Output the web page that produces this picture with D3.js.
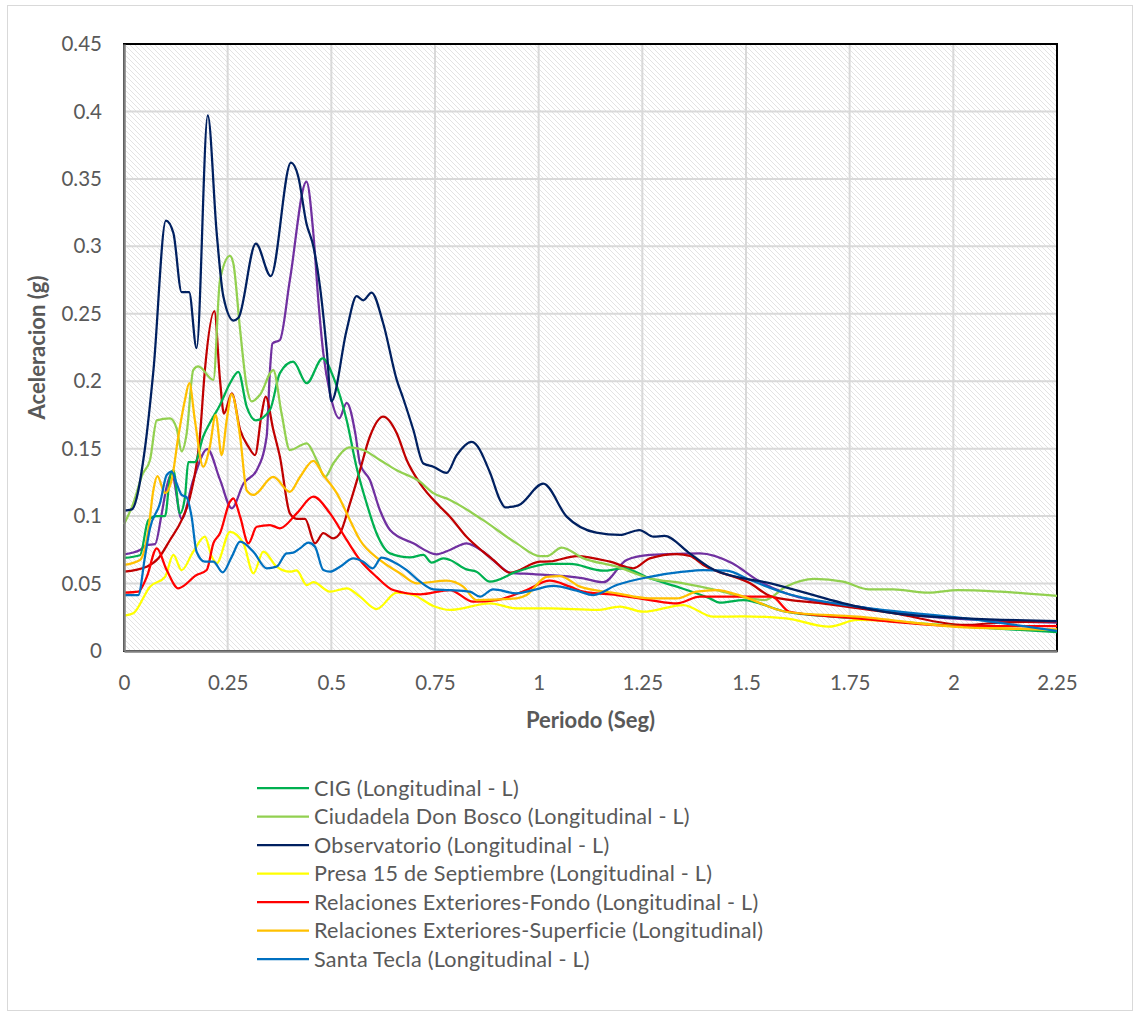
<!DOCTYPE html>
<html>
<head>
<meta charset="utf-8">
<script src="https://cdn.jsdelivr.net/npm/d3@7"></script>
<style>
  body { margin: 0; background: #fff; }
  svg text { font-family: Lato, "Open Sans", sans-serif; fill: #595959; }
</style>
</head>
<body>
<div id="chart"></div>
<script>
// periodos (s) y aceleraciones (g)
const cig = [[0,0.069],[0.0386,0.071],[0.0587,0.097],[0.079,0.1],[0.099,0.1],[0.111,0.129],[0.119,0.134],[0.135,0.102],[0.147,0.114],[0.155,0.14],[0.171,0.14],[0.191,0.159],[0.207,0.169],[0.2315,0.1824],[0.2556,0.1985],[0.2757,0.207],[0.296,0.181],[0.318,0.171],[0.352,0.1787],[0.376,0.206],[0.408,0.2145],[0.4406,0.1985],[0.479,0.217],[0.505,0.203],[0.537,0.171],[0.561,0.136],[0.585,0.1095],[0.609,0.0873],[0.6415,0.0724],[0.69,0.0694],[0.722,0.0712],[0.742,0.0655],[0.77,0.0687],[0.786,0.0675],[0.826,0.0605],[0.85,0.0588],[0.8826,0.0514],[0.947,0.0588],[1.027,0.0645],[1.0755,0.0645],[1.156,0.0595],[1.204,0.0613],[1.268,0.0539],[1.333,0.0477],[1.413,0.039],[1.437,0.0358],[1.4935,0.0378],[1.596,0.0291],[1.769,0.0242],[2.028,0.018],[2.25,0.014]];

const donBosco = [[0,0.094],[0.0225,0.1095],[0.0446,0.131],[0.0627,0.1416],[0.079,0.171],[0.111,0.1725],[0.127,0.165],[0.139,0.148],[0.151,0.161],[0.167,0.2083],[0.179,0.211],[0.2155,0.201],[0.2315,0.275],[0.2556,0.293],[0.2636,0.2874],[0.28,0.238],[0.296,0.196],[0.308,0.185],[0.328,0.19],[0.36,0.2083],[0.38,0.176],[0.40,0.149],[0.4406,0.154],[0.4646,0.1416],[0.4847,0.129],[0.5047,0.139],[0.545,0.151],[0.577,0.149],[0.617,0.1416],[0.6577,0.134],[0.7138,0.1255],[0.746,0.117],[0.786,0.112],[0.866,0.097],[0.947,0.0798],[1.003,0.0704],[1.02,0.0704],[1.0555,0.0766],[1.108,0.0687],[1.188,0.0625],[1.268,0.0539],[1.349,0.0502],[1.429,0.0452],[1.51,0.039],[1.545,0.0378],[1.596,0.0477],[1.665,0.0534],[1.734,0.0514],[1.795,0.0457],[1.855,0.0457],[1.941,0.0432],[2.01,0.0452],[2.114,0.044],[2.25,0.0408]];

const observatorio = [[0,0.104],[0.019,0.105],[0.05,0.149],[0.071,0.208],[0.101,0.319],[0.119,0.31],[0.139,0.266],[0.157,0.266],[0.175,0.2245],[0.202,0.397],[0.2235,0.31],[0.2395,0.263],[0.264,0.245],[0.276,0.247],[0.318,0.302],[0.354,0.278],[0.4027,0.362],[0.42,0.352],[0.44,0.317],[0.4566,0.30],[0.4727,0.27],[0.489,0.223],[0.5,0.185],[0.537,0.238],[0.561,0.263],[0.577,0.26],[0.597,0.2657],[0.625,0.243],[0.6577,0.201],[0.6736,0.187],[0.6977,0.164],[0.722,0.139],[0.746,0.1366],[0.778,0.132],[0.802,0.145],[0.8385,0.155],[0.883,0.132],[0.9067,0.112],[0.919,0.1065],[0.951,0.108],[1.011,0.124],[1.0675,0.0996],[1.139,0.0877],[1.196,0.086],[1.243,0.0897],[1.277,0.0847],[1.303,0.0853],[1.364,0.0724],[1.424,0.06],[1.562,0.05],[1.769,0.0329],[1.855,0.028],[2.028,0.0242],[2.25,0.0222]];

const presa = [[0,0.0262],[0.0225,0.028],[0.0627,0.0477],[0.099,0.055],[0.119,0.0712],[0.139,0.06],[0.167,0.0736],[0.195,0.0847],[0.2115,0.07],[0.2235,0.065],[0.2556,0.0884],[0.288,0.0798],[0.312,0.0576],[0.336,0.0736],[0.368,0.0625],[0.40,0.0588],[0.4165,0.0597],[0.4406,0.0489],[0.4566,0.051],[0.4968,0.044],[0.537,0.0465],[0.569,0.0403],[0.609,0.0311],[0.6577,0.0432],[0.6977,0.0415],[0.746,0.0334],[0.786,0.0304],[0.883,0.0353],[0.947,0.0316],[1.027,0.0316],[1.14,0.0304],[1.196,0.0329],[1.252,0.0291],[1.349,0.0341],[1.421,0.0254],[1.4935,0.0257],[1.596,0.0242],[1.7,0.018],[1.769,0.023],[2.028,0.018],[2.25,0.0156]];

const fondo = [[0,0.0432],[0.0346,0.044],[0.055,0.055],[0.079,0.0761],[0.103,0.06],[0.131,0.0465],[0.175,0.0563],[0.1995,0.06],[0.2155,0.0798],[0.2315,0.0873],[0.2556,0.1107],[0.2636,0.1132],[0.28,0.0996],[0.30,0.0798],[0.32,0.0921],[0.352,0.0934],[0.376,0.091],[0.4165,0.102],[0.4566,0.1144],[0.4968,0.102],[0.537,0.0823],[0.569,0.0675],[0.609,0.055],[0.649,0.0452],[0.714,0.042],[0.786,0.0452],[0.842,0.0366],[0.899,0.0378],[0.971,0.0452],[1.027,0.0521],[1.0755,0.0477],[1.108,0.044],[1.188,0.0415],[1.268,0.0378],[1.333,0.0353],[1.389,0.0403],[1.4935,0.0403],[1.562,0.0403],[1.605,0.0291],[1.769,0.0242],[2.028,0.0185],[2.25,0.0185]];

const superficie = [[0,0.0638],[0.0386,0.0675],[0.0587,0.0897],[0.0707,0.119],[0.0804,0.1297],[0.099,0.117],[0.115,0.1268],[0.131,0.159],[0.147,0.186],[0.1575,0.1985],[0.171,0.171],[0.191,0.1366],[0.207,0.1515],[0.221,0.175],[0.2355,0.1453],[0.2476,0.171],[0.2596,0.1905],[0.28,0.159],[0.296,0.119],[0.312,0.1157],[0.36,0.129],[0.40,0.118],[0.4244,0.129],[0.4566,0.141],[0.4807,0.1305],[0.513,0.117],[0.545,0.097],[0.569,0.0823],[0.617,0.0675],[0.6656,0.0576],[0.706,0.0502],[0.778,0.0521],[0.818,0.0477],[0.85,0.0378],[0.947,0.039],[0.971,0.0415],[1.019,0.055],[1.051,0.0556],[1.0997,0.0477],[1.188,0.0428],[1.268,0.039],[1.333,0.039],[1.381,0.044],[1.429,0.0452],[1.4935,0.0403],[1.596,0.0291],[1.769,0.0254],[2.028,0.0175],[2.25,0.016]];

const santaTecla = [[0,0.0415],[0.0346,0.0415],[0.0506,0.07],[0.0627,0.091],[0.0868,0.1095],[0.103,0.1305],[0.115,0.133],[0.127,0.124],[0.139,0.1157],[0.151,0.114],[0.163,0.0996],[0.175,0.0736],[0.195,0.0662],[0.2155,0.0662],[0.238,0.0583],[0.26,0.07],[0.28,0.081],[0.312,0.0736],[0.344,0.0613],[0.368,0.0625],[0.392,0.0724],[0.408,0.0729],[0.4244,0.0761],[0.4445,0.0803],[0.4606,0.0773],[0.4807,0.06],[0.4968,0.0588],[0.521,0.0625],[0.553,0.0687],[0.577,0.0662],[0.5997,0.0613],[0.621,0.0692],[0.649,0.0662],[0.6817,0.06],[0.714,0.0514],[0.746,0.0457],[0.786,0.0452],[0.834,0.044],[0.8585,0.0403],[0.89,0.0457],[0.947,0.0428],[0.987,0.0452],[1.035,0.0482],[1.092,0.0447],[1.132,0.0415],[1.188,0.0489],[1.268,0.055],[1.349,0.0588],[1.397,0.06],[1.453,0.0595],[1.51,0.0526],[1.596,0.0428],[1.769,0.0329],[2.028,0.0242],[2.25,0.015]];

// dos series sin entrada en la leyenda
const extraMorado = [[0,0.0717],[0.0386,0.0749],[0.055,0.0786],[0.075,0.0793],[0.091,0.102],[0.103,0.122],[0.115,0.1317],[0.139,0.098],[0.167,0.1268],[0.201,0.1497],[0.2315,0.127],[0.26,0.1058],[0.288,0.124],[0.32,0.134],[0.344,0.159],[0.352,0.208],[0.358,0.228],[0.376,0.2306],[0.40,0.275],[0.44,0.348],[0.4566,0.3097],[0.4686,0.26],[0.4807,0.2207],[0.4968,0.191],[0.519,0.1725],[0.537,0.184],[0.558,0.161],[0.569,0.139],[0.593,0.1268],[0.617,0.1045],[0.6415,0.0897],[0.6977,0.0798],[0.754,0.0717],[0.786,0.0749],[0.826,0.0798],[0.866,0.0736],[0.899,0.065],[0.931,0.058],[0.987,0.057],[1.108,0.0539],[1.156,0.051],[1.212,0.0675],[1.268,0.0712],[1.389,0.0724],[1.467,0.065],[1.527,0.0526],[1.596,0.0428],[1.769,0.0329],[1.941,0.0254],[2.25,0.021]];

const extraGranate = [[0,0.0588],[0.0547,0.0625],[0.083,0.0687],[0.111,0.0823],[0.139,0.097],[0.159,0.114],[0.183,0.159],[0.195,0.208],[0.218,0.252],[0.2315,0.201],[0.241,0.176],[0.26,0.191],[0.28,0.164],[0.30,0.1515],[0.316,0.1453],[0.332,0.176],[0.3416,0.1885],[0.36,0.164],[0.376,0.144],[0.40,0.102],[0.4165,0.098],[0.4365,0.098],[0.4606,0.0798],[0.4807,0.0873],[0.5047,0.0835],[0.521,0.0873],[0.545,0.1095],[0.569,0.134],[0.593,0.159],[0.625,0.1737],[0.6577,0.1614],[0.6817,0.1416],[0.7138,0.1243],[0.762,0.107],[0.786,0.0996],[0.826,0.0847],[0.866,0.0736],[0.8906,0.0675],[0.931,0.058],[1.003,0.0662],[1.027,0.0664],[1.092,0.0704],[1.172,0.0662],[1.228,0.0613],[1.268,0.0687],[1.333,0.0719],[1.365,0.0704],[1.397,0.0638],[1.51,0.0502],[1.562,0.0403],[1.683,0.0353],[1.855,0.028],[2.028,0.0193],[2.11,0.021],[2.25,0.022]];

const legendNames = [
    "CIG (Longitudinal  - L)",
    "Ciudadela Don Bosco (Longitudinal - L)",
    "Observatorio (Longitudinal - L)",
    "Presa 15 de Septiembre (Longitudinal - L)",
    "Relaciones Exteriores-Fondo (Longitudinal - L)",
    "Relaciones Exteriores-Superficie (Longitudinal)",
    "Santa Tecla (Longitudinal - L)"
];
const legendColors = ["#00B050", "#92D050", "#002060", "#FFFF00", "#FF0000", "#FFC000", "#0070C0"];

const xTicks = [0, 0.25, 0.5, 0.75, 1, 1.25, 1.5, 1.75, 2, 2.25];
const yTicks = [0, 0.05, 0.1, 0.15, 0.2, 0.25, 0.3, 0.35, 0.4, 0.45];

const series = [
    { pts: extraMorado, color: "#7030A0" },
    { pts: extraGranate, color: "#C00000" },
    { pts: cig, color: legendColors[0] },
    { pts: donBosco, color: legendColors[1] },
    { pts: presa, color: legendColors[3] },
    { pts: fondo, color: legendColors[4] },
    { pts: superficie, color: legendColors[5] },
    { pts: santaTecla, color: legendColors[6] },
    { pts: observatorio, color: legendColors[2] }
];

const W = 1136, H = 1015;
const plot = { left: 124, right: 1057, top: 44, bottom: 651 };

const svg = d3.select("#chart").append("svg")
    .attr("width", W)
    .attr("height", H);

// borde exterior del grafico
svg.append("rect")
    .attr("x", 7.5).attr("y", 5.5)
    .attr("width", 1125).attr("height", 1005)
    .attr("fill", "#fff")
    .attr("stroke", "#d9d9d9");

// trama diagonal del area de trazado
const defs = svg.append("defs");
const pat = defs.append("pattern")
    .attr("id", "hatch")
    .attr("patternUnits", "userSpaceOnUse")
    .attr("width", 5).attr("height", 5);
pat.append("rect").attr("width", 5).attr("height", 5).attr("fill", "#fff");
pat.append("path")
    .attr("d", "M-1,-1 L6,6 M-1,4 L1,6 M4,-1 L6,1")
    .attr("stroke", "#e0e0e0")
    .attr("stroke-width", 0.9);

const x = d3.scaleLinear().domain([0, 2.25]).range([plot.left, plot.right]);
const y = d3.scaleLinear().domain([0, 0.45]).range([plot.bottom, plot.top]);

svg.append("rect")
    .attr("x", plot.left).attr("y", plot.top)
    .attr("width", plot.right - plot.left)
    .attr("height", plot.bottom - plot.top)
    .attr("fill", "url(#hatch)");

// rejilla
svg.append("g").selectAll("line").data(xTicks.slice(1, -1)).join("line")
    .attr("x1", d => x(d)).attr("x2", d => x(d))
    .attr("y1", plot.top).attr("y2", plot.bottom)
    .attr("stroke", "#d9d9d9").attr("stroke-width", 2);
svg.append("g").selectAll("line").data(yTicks.slice(1, -1)).join("line")
    .attr("x1", plot.left).attr("x2", plot.right)
    .attr("y1", d => y(d)).attr("y2", d => y(d))
    .attr("stroke", "#d9d9d9").attr("stroke-width", 2);

// borde del area de trazado
svg.append("rect")
    .attr("x", plot.left).attr("y", plot.top)
    .attr("width", plot.right - plot.left)
    .attr("height", plot.bottom - plot.top)
    .attr("fill", "none")
    .attr("stroke", "#000")
    .attr("stroke-width", 2);

// series
const line = d3.line()
    .x(d => x(d[0]))
    .y(d => y(d[1]))
    .curve(d3.curveMonotoneX);

svg.append("g").selectAll("path").data(series).join("path")
    .attr("d", d => line(d.pts))
    .attr("fill", "none")
    .attr("stroke", d => d.color)
    .attr("stroke-width", 2.25)
    .attr("stroke-linejoin", "round");

// ejes
const fmt = d => String(+d.toFixed(2));
const xAxis = d3.axisBottom(x).tickValues(xTicks).tickSize(0).tickPadding(24).tickFormat(fmt);
const yAxis = d3.axisLeft(y).tickValues(yTicks).tickSize(0).tickPadding(22).tickFormat(fmt);

const gx = svg.append("g")
    .attr("transform", `translate(0,${plot.bottom})`)
    .call(xAxis);
const gy = svg.append("g")
    .attr("transform", `translate(${plot.left},0)`)
    .call(yAxis);

[gx, gy].forEach(g => {
    g.select(".domain").attr("stroke", "#7f7f7f").attr("stroke-width", 2.5);
    g.selectAll("text").style("font-size", "20.5px").attr("fill", "#595959");
});

svg.append("text")
    .attr("x", x(1.125)).attr("y", 728)
    .attr("text-anchor", "middle")
    .style("font-size", "22px").style("font-weight", "bold")
    .text("Periodo (Seg)");

svg.append("text")
    .attr("transform", `translate(45,${(plot.top + plot.bottom) / 2}) rotate(-90)`)
    .attr("text-anchor", "middle")
    .style("font-size", "22px").style("font-weight", "bold")
    .text("Aceleracion (g)");

// leyenda
const legend = svg.append("g")
    .selectAll("g").data(legendNames).join("g")
    .attr("transform", (d, i) => `translate(257,${788 + i * 28.5})`);
legend.append("line")
    .attr("x1", 0).attr("x2", 52)
    .attr("stroke", (d, i) => legendColors[i])
    .attr("stroke-width", 2.25);
legend.append("text")
    .attr("x", 57).attr("dy", "0.35em")
    .style("font-size", "21.6px")
    .style("letter-spacing", "0.25px")
    .text(d => d);
</script>
</body>
</html>
